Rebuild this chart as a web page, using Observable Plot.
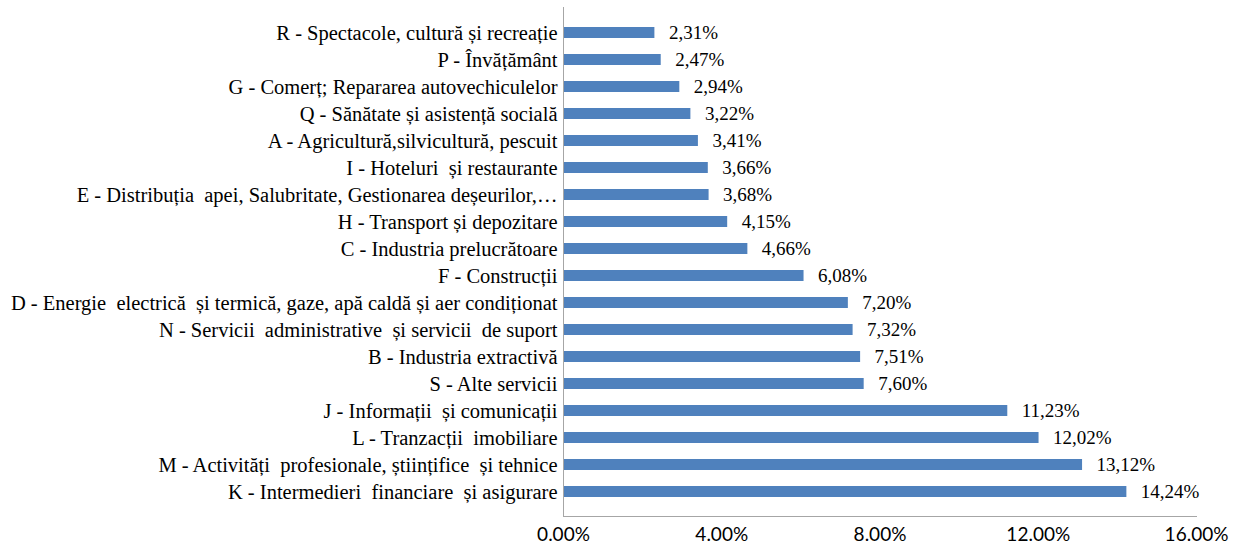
<!DOCTYPE html>
<html>
<head>
<meta charset="utf-8">
<script src="https://cdn.jsdelivr.net/npm/d3@7"></script>
<script src="https://cdn.jsdelivr.net/npm/@observablehq/plot@0.6"></script>
<style>
  html, body { margin: 0; padding: 0; background: #fff; }
</style>
</head>
<body>
<div id="chart"></div>
<script>
const categories = [
  "R - Spectacole, cultură și recreație",
  "P - Învățământ",
  "G - Comerț; Repararea autovechiculelor",
  "Q - Sănătate și asistență socială",
  "A - Agricultură,silvicultură, pescuit",
  "I - Hoteluri  și restaurante",
  "E - Distribuția  apei, Salubritate, Gestionarea deșeurilor,…",
  "H - Transport și depozitare",
  "C - Industria prelucrătoare",
  "F - Construcții",
  "D - Energie  electrică  și termică, gaze, apă caldă și aer condiționat",
  "N - Servicii  administrative  și servicii  de suport",
  "B - Industria extractivă",
  "S - Alte servicii",
  "J - Informații  și comunicații",
  "L - Tranzacții  imobiliare",
  "M - Activități  profesionale, științifice  și tehnice",
  "K - Intermedieri  financiare  și asigurare"
];
const values = [2.31, 2.47, 2.94, 3.22, 3.41, 3.66, 3.68, 4.15, 4.66, 6.08, 7.20, 7.32, 7.51, 7.60, 11.23, 12.02, 13.12, 14.24];
const xTicks = [0, 4, 8, 12, 16];

const data = categories.map((c, i) => ({category: c, value: values[i]}));

const chart = Plot.plot({
  width: 1233,
  height: 550,
  marginLeft: 563,
  marginRight: 37,
  marginTop: 7,
  marginBottom: 34,
  style: {background: "#fff"},
  x: {domain: [0, 16]},
  y: {domain: categories, padding: 0.6},
  marks: [
    Plot.barX(data, {y: "category", x: "value", fill: "#4F81BD"}),
    Plot.text(data, {
      y: "category", x: "value",
      text: d => d.value.toFixed(2).replace(".", ",") + "%",
      textAnchor: "start", dx: 14, fill: "#000",
      fontFamily: "Liberation Serif", fontSize: 19
    }),
    Plot.ruleX([0], {stroke: "#a6a6a6"}),
    Plot.frame({anchor: "bottom", stroke: "#a6a6a6"}),
    Plot.axisY({tickSize: 0, tickPadding: 6, label: null, fill: "#000",
      fontFamily: "Liberation Serif", fontSize: 20.5}),
    Plot.axisX({
      ticks: xTicks, tickSize: 0, tickPadding: 11, label: null,
      tickFormat: d => d.toFixed(2) + "%", fill: "#000",
      fontFamily: "Lato", fontSize: 19
    })
  ]
});
document.getElementById("chart").appendChild(chart);
</script>
</body>
</html>
